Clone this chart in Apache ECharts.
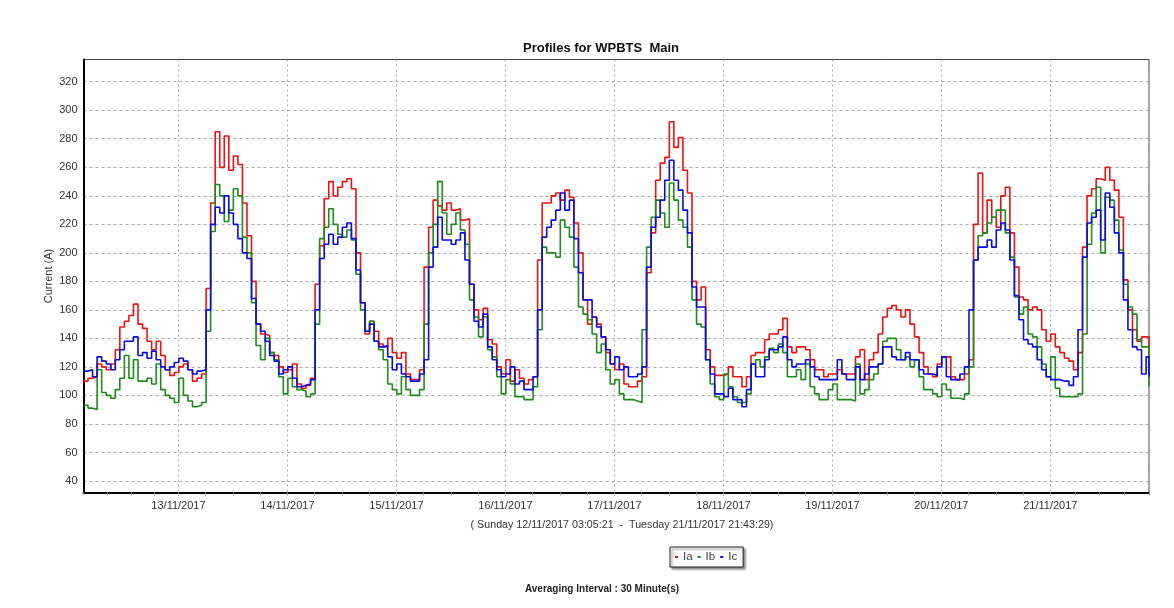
<!DOCTYPE html>
<html>
<head>
<meta charset="utf-8">
<script src="https://cdn.jsdelivr.net/npm/echarts@6/dist/echarts.min.js"></script>
<style>
html,body{margin:0;padding:0;background:#fff;}
#chart{width:1174px;height:608px;}
</style>
</head>
<body>
<div id="chart"></div>
<script>
// ---- data (hourly readings of the 30-minute profile) ----
const startTime = '2017-11-12T03:05:21';
const endTime = '2017-11-21T21:43:29';
const stepMinutes = 60;
const seriesNames = ['Ia', 'Ib', 'Ic'];
const yTicks = [40, 60, 80, 100, 120, 140, 160, 180, 200, 220, 240, 260, 280, 300, 320];

const ia = [
  110,112,113,122,120,118,122,132,148,152,156,164,150,147,138,132,138,128,118,114,116,120,122,118,110,112,115,175,235,285,260,282,258,268,
  262,235,212,180,150,143,142,130,128,120,116,118,122,108,105,107,112,178,205,238,250,240,246,250,252,245,200,165,143,152,145,136,134,140,
  130,126,130,115,111,111,118,190,218,237,233,230,235,230,231,223,224,178,160,153,161,139,136,120,115,125,110,118,112,108,111,113,195,235,
  235,240,242,237,244,239,221,200,167,150,155,150,141,130,122,118,122,108,106,106,110,113,186,214,251,263,267,292,274,281,258,242,180,167,
  176,132,120,114,114,115,120,113,113,106,113,128,130,130,139,143,143,146,154,134,130,134,134,132,125,118,118,113,115,115,118,115,115,
  115,127,132,111,125,130,143,155,161,163,160,155,160,150,141,130,120,115,113,122,127,127,113,111,111,115,125,220,256,214,237,225,218,240,
  246,214,190,169,167,160,162,160,146,138,143,134,130,126,124,118,130,204,240,245,252,251,260,251,244,225,181,160,146,138,141,141,127
];
const ib = [
  93,91,90,118,102,100,98,104,112,128,112,125,110,110,112,108,122,104,100,98,95,112,100,96,92,93,95,145,215,248,240,222,230,245,
  240,211,200,165,135,125,140,130,125,113,101,112,106,104,103,99,101,150,210,218,231,220,213,211,216,209,185,160,145,152,138,132,125,108,
  104,101,113,104,100,100,104,150,200,220,250,228,213,220,228,216,206,167,155,141,155,132,127,113,101,111,108,99,99,97,97,106,146,204,
  200,200,197,223,218,211,190,162,157,153,143,130,136,118,108,111,101,97,97,96,95,146,204,225,237,228,218,249,237,223,218,204,167,150,
  148,125,108,99,97,115,106,99,95,95,101,122,125,120,127,133,130,136,130,113,113,118,111,122,106,101,97,97,104,108,97,97,97,
  96,122,101,104,111,115,122,138,140,140,132,125,127,120,125,113,104,104,101,99,108,104,98,98,97,101,120,195,212,214,221,225,230,230,
  214,197,169,157,162,143,141,134,122,113,127,105,99,99,99,99,101,143,206,228,246,200,239,237,223,202,178,162,157,139,134,134,106
];
const ic = [
  117,118,113,127,124,122,118,125,132,138,138,141,128,130,126,131,125,120,118,120,123,126,124,118,115,117,118,160,220,232,228,240,228,220,
  210,200,196,168,150,145,138,128,124,115,118,120,112,106,107,108,111,160,196,206,213,206,211,218,221,210,188,165,145,150,138,134,135,127,
  118,122,115,113,110,110,115,125,190,204,225,209,209,206,209,214,195,178,152,148,157,134,125,118,113,115,120,108,110,104,104,113,160,211,
  218,223,230,242,230,237,210,186,167,167,155,148,141,132,122,127,118,120,113,113,115,120,190,218,225,237,251,265,251,244,230,214,176,162,
  162,125,115,101,101,99,105,97,97,92,104,122,113,113,125,132,132,134,141,125,120,122,122,125,120,113,111,111,111,111,125,115,111,
  111,120,111,115,120,120,122,134,134,127,125,125,130,125,125,118,115,115,114,120,127,113,111,111,115,120,160,195,204,204,209,204,216,221,
  216,195,170,153,139,136,134,125,118,113,111,111,110,110,107,113,146,197,221,225,230,209,242,232,214,200,167,146,134,132,115,127,113
];

// ---- build ----
const t0 = new Date(startTime).getTime();
const t1 = new Date(endTime).getTime();
function toPairs(vals) {
  return vals.map((v, i) => [Math.min(t0 + i * stepMinutes * 60000, t1), v]);
}
const colors = ['#f01010', '#1c8c1c', '#0a0ae6'];
const font = 'Liberation Sans, Arial, sans-serif';
const pad = n => (n < 10 ? '0' : '') + n;

const chart = echarts.init(document.getElementById('chart'), null, { renderer: 'canvas' });
chart.setOption({
  animation: false,
  backgroundColor: '#ffffff',
  title: [
    { text: 'Profiles for WPBTS  Main', left: 596, top: 37, textAlign: 'center',
      textStyle: { fontFamily: font, fontSize: 13, fontWeight: 'bold', color: '#111' } },
    { text: '( Sunday 12/11/2017 03:05:21  -  Tuesday 21/11/2017 21:43:29)', left: 617, top: 515, textAlign: 'center',
      textStyle: { fontFamily: font, fontSize: 10.7, fontWeight: 'normal', color: '#333' } },
    { text: 'Averaging Interval : 30 Minute(s)', left: 597, top: 579, textAlign: 'center',
      textStyle: { fontFamily: font, fontSize: 10, fontWeight: 'bold', color: '#222' } }
  ],
  legend: {
    data: seriesNames,
    left: 670, top: 547,
    orient: 'horizontal',
    itemWidth: 3, itemHeight: 2, itemGap: 5,
    icon: 'rect',
    padding: [4, 6, 4, 5],
    borderColor: '#222', borderWidth: 1,
    backgroundColor: '#fff',
    shadowColor: 'rgba(0,0,0,0.45)', shadowBlur: 2, shadowOffsetX: 2, shadowOffsetY: 2,
    textStyle: { fontFamily: font, fontSize: 11.5, color: '#444' }
  },
  grid: [
    { left: 83.5, right: 25, top: 59.5, bottom: 115.5, show: true, borderColor: '#444', borderWidth: 1, containLabel: false },
    { left: 83.5, right: 25, top: 81.7, bottom: 127, show: false, containLabel: false }
  ],
  xAxis: [
    {
      type: 'time', gridIndex: 0,
      min: t0, max: t1,
      minInterval: 86400000, maxInterval: 86400000,
      axisLine: { show: true, lineStyle: { color: '#000', width: 2 } },
      axisTick: { show: true, length: 3, lineStyle: { color: '#999' } },
      minorTick: { show: true, splitNumber: 4, length: 3, lineStyle: { color: '#999' } },
      splitLine: { show: true, lineStyle: { color: '#aaa', type: [2, 3], width: 1 } },
      axisLabel: {
        showMinLabel: false, showMaxLabel: false,
        margin: 8, fontFamily: font, fontSize: 11, color: '#333',
        formatter: function (val) {
          const d = new Date(val);
          return pad(d.getDate()) + '/' + pad(d.getMonth() + 1) + '/' + d.getFullYear();
        }
      }
    },
    { type: 'value', gridIndex: 1, min: 0, max: 1, show: false }
  ],
  yAxis: [
    {
      type: 'value', gridIndex: 0, min: 31.8, max: 335.7,
      axisLine: { show: true, lineStyle: { color: '#000', width: 2 } },
      axisTick: { show: false }, axisLabel: { show: false }, splitLine: { show: false },
      name: 'Current (A)', nameLocation: 'middle', nameGap: 29, nameRotate: 90,
      nameTextStyle: { fontFamily: font, fontSize: 11, color: '#333' }
    },
    {
      type: 'value', gridIndex: 1, min: yTicks[0], max: yTicks[yTicks.length - 1], interval: 20,
      axisLine: { show: false }, axisTick: { show: false },
      axisLabel: { margin: 6, fontFamily: font, fontSize: 11, color: '#333' },
      splitLine: { show: true, lineStyle: { color: '#aaa', type: [3, 3], width: 1 } }
    }
  ],
  series: [
    { name: seriesNames[0], type: 'line', step: 'end', xAxisIndex: 0, yAxisIndex: 0, data: toPairs(ia),
      showSymbol: false, symbol: 'none', lineStyle: { color: colors[0], width: 1.6 }, itemStyle: { color: colors[0] } },
    { name: seriesNames[1], type: 'line', step: 'end', xAxisIndex: 0, yAxisIndex: 0, data: toPairs(ib),
      showSymbol: false, symbol: 'none', lineStyle: { color: colors[1], width: 1.6 }, itemStyle: { color: colors[1] } },
    { name: seriesNames[2], type: 'line', step: 'end', xAxisIndex: 0, yAxisIndex: 0, data: toPairs(ic),
      showSymbol: false, symbol: 'none', lineStyle: { color: colors[2], width: 1.6 }, itemStyle: { color: colors[2] } }
  ]
});
</script>
</body>
</html>
